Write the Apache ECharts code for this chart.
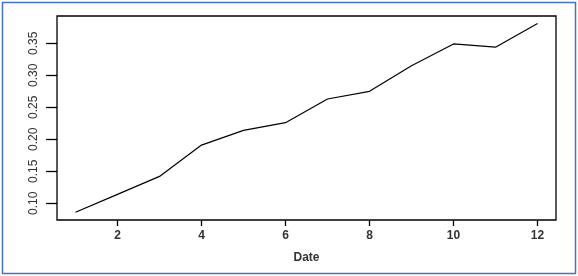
<!DOCTYPE html>
<html>
<head>
<meta charset="utf-8">
<script src="https://cdn.jsdelivr.net/npm/echarts@6/dist/echarts.min.js"></script>
<style>
html, body { margin: 0; padding: 0; background: #fff; }
#content { width: 578px; height: 276px; }
</style>
</head>
<body>
<div id="content"></div>
<script>
// data
var dates = [1, 2, 3, 4, 5, 6, 7, 8, 9, 10, 11, 12];
var values = [0.086, 0.114, 0.142, 0.191, 0.214, 0.226, 0.263, 0.275, 0.315, 0.349, 0.344, 0.381];
var xTicks = [2, 4, 6, 8, 10, 12];
var yTicks = [0.10, 0.15, 0.20, 0.25, 0.30, 0.35];

var points = [];
for (var i = 0; i < dates.length; i++) {
    points.push([dates[i], values[i]]);
}

var myChart = echarts.init(document.getElementById('content'));

var option = {
    animation: false,
    backgroundColor: '#ffffff',
    grid: {
        left: 57,
        right: 22,
        top: 16,
        bottom: 56,
        show: true,
        borderColor: '#000',
        borderWidth: 1.3
    },
    graphic: [{
        type: 'rect',
        shape: { x: 2.5, y: 2.5, width: 573, height: 271 },
        style: { fill: 'none', stroke: '#4472C4', lineWidth: 1.5 },
        silent: true
    }],
    xAxis: {
        type: 'value',
        min: 0.56,
        max: 12.44,
        name: 'Date',
        nameLocation: 'middle',
        nameGap: 32,
        nameTextStyle: { fontFamily: 'Liberation Sans', fontSize: 12, fontWeight: 'bold', color: '#333' },
        axisLine: { show: false },
        splitLine: { show: false },
        axisTick: {
            show: true,
            length: 6,
            customValues: xTicks,
            lineStyle: { color: '#000', width: 1.3 }
        },
        axisLabel: {
            customValues: xTicks,
            margin: 10,
            fontFamily: 'Liberation Sans',
            fontSize: 12,
            fontWeight: 'bold',
            color: '#333'
        }
    },
    yAxis: {
        type: 'value',
        min: 0.0739,
        max: 0.3927,
        axisLine: { show: false },
        splitLine: { show: false },
        axisTick: {
            show: true,
            length: 11,
            customValues: yTicks,
            lineStyle: { color: '#000', width: 1.3 }
        },
        axisLabel: {
            customValues: yTicks,
            rotate: 90,
            margin: 17,
            fontFamily: 'Liberation Sans Narrow, Liberation Sans',
            fontSize: 12,
            color: '#333',
            formatter: function (v) { return v.toFixed(2); }
        }
    },
    series: [{
        type: 'line',
        data: points,
        symbol: 'none',
        lineStyle: { color: '#000', width: 1.2 }
    }]
};

myChart.setOption(option);
</script>
</body>
</html>
